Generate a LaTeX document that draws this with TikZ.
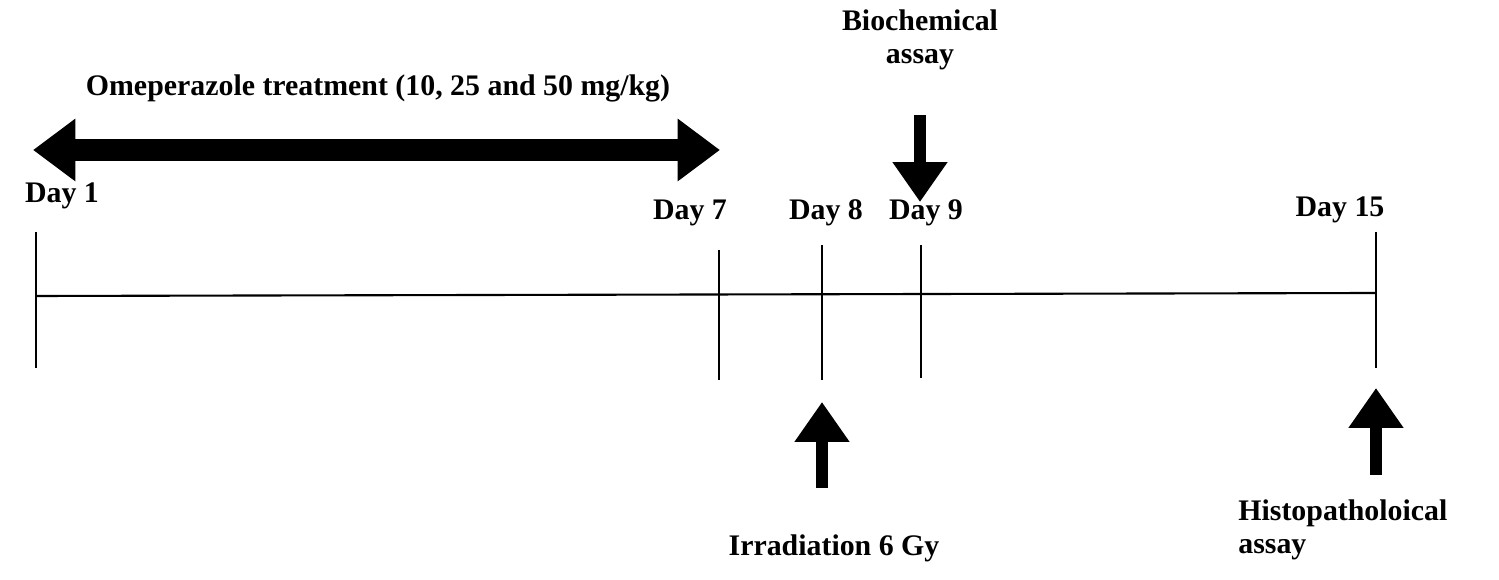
\documentclass[tikz,border=0pt]{standalone}
\usepackage{fontspec}
\setmainfont{Liberation Serif}
\usetikzlibrary{arrows.meta}
\begin{document}
\begin{tikzpicture}[x=0.02cm,y=-0.02cm,
  lbl/.style={font=\fontsize{17}{19}\selectfont\bfseries,inner sep=0pt},
  tick/.style={line width=1.4pt},
  fat/.style={line width=0.24cm,-{Triangle[length=0.8cm,width=1.05cm]}}]
\useasboundingbox (0,0) rectangle (1499,580);
\coordinate (L) at (36,296); \coordinate (R) at (1376,293);
\draw[line width=1.2pt] (L) -- (R);
\draw[tick] (36,232) -- (36,368);
\draw[tick] (719,250) -- (719,380);
\draw[tick] (822,245) -- (822,380);
\draw[tick] (921,245) -- (921,378);
\draw[tick] (1376,232) -- (1376,368);
\node[lbl] (d1) at (62,196) {Day 1};
\node[lbl] (d7) at (690,213) {Day 7};
\node[lbl] (d8) at (826,213) {Day 8};
\node[lbl] (d9) at (926,213) {Day 9};
\node[lbl] (d15) at (1340,210) {Day 15};
\node[lbl] (t) at (378,88) {Omeperazole treatment (10, 25 and 50 mg/kg)};
\coordinate (a1) at (33,150); \coordinate (a2) at (720,150);
\draw[line width=0.44cm,{Triangle[length=0.85cm,width=1.2cm]}-{Triangle[length=0.85cm,width=1.2cm]}] (a1) -- (a2);
\node[lbl,align=center] (bio) at (920,40) {Biochemical\\assay};
\coordinate (b1) at (920,115); \coordinate (b2) at (920,202);
\draw[fat] (b1) -- (b2);
\coordinate (i1) at (822,488); \coordinate (i2) at (822,402);
\draw[fat] (i1) -- (i2);
\coordinate (h1) at (1376,475); \coordinate (h2) at (1376,388);
\draw[fat] (h1) -- (h2);
\node[lbl] (irr) at (834,548) {Irradiation 6 Gy};
\node[lbl,align=left,anchor=west] (his) at (1238,530) {Histopatholoical\\assay};
\end{tikzpicture}
\end{document}
